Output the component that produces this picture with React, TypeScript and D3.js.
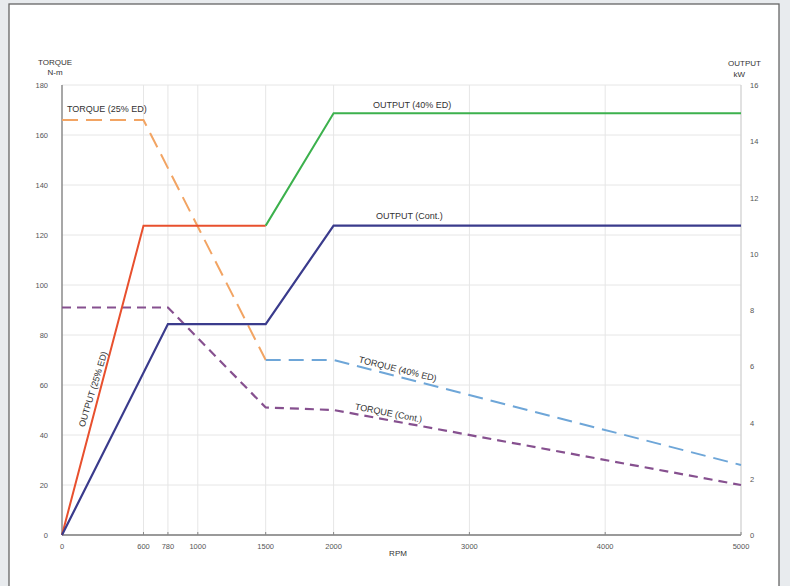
import React from "react";
import * as d3 from "d3";

const rpmTicks = [0, 600, 780, 1000, 1500, 2000, 3000, 4000, 5000];
const torqueTicks = [0, 20, 40, 60, 80, 100, 120, 140, 160, 180];
const kwTicks = [0, 2, 4, 6, 8, 10, 12, 14, 16];

const torque25Rpm = [0, 600, 1500];
const torque25 = [166, 166, 70];
const torque40Rpm = [1500, 2000, 5000];
const torque40 = [70, 70, 28];
const torqueContRpm = [0, 780, 1500, 2000, 5000];
const torqueCont = [91, 91, 51, 50, 20];

const output25Rpm = [0, 600, 1500];
const output25 = [0, 11, 11];
const output40Rpm = [1500, 2000, 5000];
const output40 = [11, 15, 15];
const outputContRpm = [0, 780, 1500, 2000, 5000];
const outputCont = [0, 7.5, 7.5, 11, 11];

const W = 790;
const H = 586;
const FONT = "'Liberation Sans', Arial, sans-serif";

export default function App() {
  const x = d3.scaleLinear().domain([0, 5000]).range([62, 741]);
  const yT = d3.scaleLinear().domain([0, 180]).range([535, 85]);
  const yK = d3.scaleLinear().domain([0, 16]).range([535, 85]);

  const pts = (xs: number[], ys: number[]) => xs.map((v, i) => [v, ys[i]] as [number, number]);
  const lineT = d3.line<[number, number]>().x((d) => x(d[0])).y((d) => yT(d[1]));
  const lineK = d3.line<[number, number]>().x((d) => x(d[0])).y((d) => yK(d[1]));

  const series = [
    { d: lineT(pts(torque25Rpm, torque25)), color: "#f2a463", dash: "16 8", w: 2 },
    { d: lineT(pts(torque40Rpm, torque40)), color: "#6ea6d8", dash: "15 8", w: 2 },
    { d: lineT(pts(torqueContRpm, torqueCont)), color: "#86508f", dash: "9 6", w: 2.2 },
    { d: lineK(pts(output25Rpm, output25)), color: "#e8502e", dash: undefined, w: 2 },
    { d: lineK(pts(output40Rpm, output40)), color: "#3cb14d", dash: undefined, w: 2 },
    { d: lineK(pts(outputContRpm, outputCont)), color: "#3a3b8c", dash: undefined, w: 2.2 },
  ];

  const labelStyle = { fontFamily: FONT, fontSize: 9, fill: "#333" } as const;
  const tickStyle = { fontFamily: FONT, fontSize: 7.5, fill: "#555" } as const;

  return (
    <svg width={W} height={H} style={{ position: "absolute", left: 0, top: 0 }}>
      <rect x={0} y={0} width={W} height={H} fill="#e8ebee" />
      <rect x={9} y={4} width={770} height={H} fill="#ffffff" stroke="#666" strokeWidth={1.3} />

      {/* grid */}
      {torqueTicks.map((t) => (
        <line key={"gh" + t} x1={x(0)} x2={x(5000)} y1={yT(t)} y2={yT(t)} stroke="#e6e6e6" strokeWidth={1} />
      ))}
      {rpmTicks.slice(1).map((r) => (
        <line key={"gv" + r} x1={x(r)} x2={x(r)} y1={yT(180)} y2={yT(0)} stroke="#e6e6e6" strokeWidth={1} />
      ))}

      {/* axes */}
      <line x1={x(0)} x2={x(0)} y1={yT(180)} y2={yT(0)} stroke="#8a8a8a" strokeWidth={1.5} />
      <line x1={x(5000)} x2={x(5000)} y1={yT(180)} y2={yT(0)} stroke="#cfcfcf" strokeWidth={1} />
      <line x1={x(0)} x2={x(5000)} y1={yT(0)} y2={yT(0)} stroke="#9a9a9a" strokeWidth={2} />
      {rpmTicks.map((r) => (
        <line key={"tk" + r} x1={x(r)} x2={x(r)} y1={yT(0) - 3} y2={yT(0)} stroke="#888" strokeWidth={1} />
      ))}

      {/* ticks */}
      {torqueTicks.map((t) => (
        <text key={"lt" + t} x={48} y={yT(t) + 2.5} textAnchor="end" {...tickStyle}>{t}</text>
      ))}
      {kwTicks.map((k) => (
        <text key={"rt" + k} x={750} y={yK(k) + 3} textAnchor="start" {...tickStyle}>{k}</text>
      ))}
      {rpmTicks.map((r) => (
        <text key={"bt" + r} x={x(r)} y={549} textAnchor="middle" {...tickStyle}>{r}</text>
      ))}

      {/* axis titles */}
      <text x={38} y={65} {...tickStyle} fontSize={8} fill="#333">TORQUE</text>
      <text x={55} y={75} textAnchor="middle" {...tickStyle} fontSize={8} fill="#333">N-m</text>
      <text x={761} y={66} textAnchor="end" {...tickStyle} fontSize={8} fill="#333">OUTPUT</text>
      <text x={745} y={77} textAnchor="end" {...tickStyle} fontSize={8} fill="#333">kW</text>
      <text x={398} y={556} textAnchor="middle" {...tickStyle} fontSize={8} fill="#333">RPM</text>

      {/* lines */}
      {series.map((s, i) => (
        <path key={i} d={s.d || ""} fill="none" stroke={s.color} strokeWidth={s.w} strokeDasharray={s.dash} />
      ))}

      {/* series labels */}
      <text x={67} y={112} {...labelStyle}>TORQUE (25% ED)</text>
      <text x={373} y={108} {...labelStyle}>OUTPUT (40% ED)</text>
      <text x={376} y={219} {...labelStyle}>OUTPUT (Cont.)</text>
      <text x={0} y={0} textAnchor="middle" {...labelStyle} transform="translate(96,390) rotate(-73)">OUTPUT (25% ED)</text>
      <text x={0} y={0} textAnchor="middle" {...labelStyle} transform="translate(397,372) rotate(14)">TORQUE (40% ED)</text>
      <text x={0} y={0} textAnchor="middle" {...labelStyle} transform="translate(388,416) rotate(11)">TORQUE (Cont.)</text>
    </svg>
  );
}
